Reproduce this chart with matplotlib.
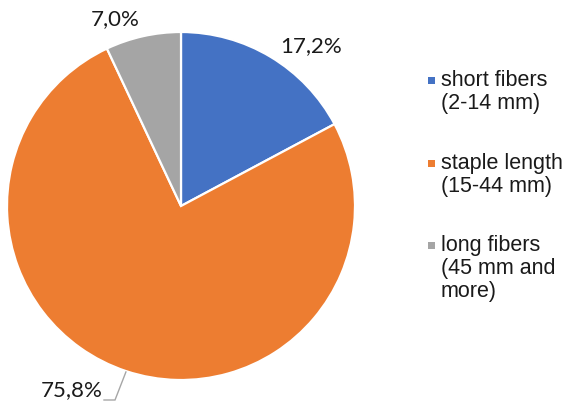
import numpy as np
import matplotlib
matplotlib.use("Agg")
import matplotlib.pyplot as plt
import matplotlib.patches as patches

# fiber length distribution (share of total, %)
categories = ["short fibers\n(2-14 mm)", "staple length\n(15-44 mm)", "long fibers\n(45 mm and\nmore)"]
shares = [17.2, 75.8, 7.0]
labels = ["17,2%", "75,8%", "7,0%"]
colors = ["#4472C4", "#ED7D31", "#A5A5A5"]

W, H = 568, 405
fig = plt.figure(figsize=(W / 100, H / 100), dpi=100, facecolor="white")

# pie axes: centre (181, 206) px, radius 174 px
cx, cy, r = 181, 206, 174
ax = fig.add_axes([(cx - r) / W, (H - cy - r) / H, 2 * r / W, 2 * r / H])

wedges, _ = ax.pie(shares, colors=colors, startangle=90, counterclock=False,
                   radius=1.0, wedgeprops=dict(edgecolor="white", linewidth=1.6))
# pie() widens the limits itself, so pin them afterwards
ax.set_xlim(-1, 1)
ax.set_ylim(-1, 1)
ax.set_aspect("equal")
ax.axis("off")

txt_color = "#1a1a1a"
label_font = ["Lato", "DejaVu Sans"]
fs_label = 16

# data labels, placed in px then converted to data units
def px(x, y):
    return (x - cx) / r, (cy - y) / r

ax.text(*px(311, 46), labels[0], fontsize=fs_label, family=label_font,
        color=txt_color, ha="center", va="center", clip_on=False)
ax.text(*px(115, 19), labels[2], fontsize=fs_label, family=label_font,
        color=txt_color, ha="center", va="center", clip_on=False)
ax.text(*px(103, 390), labels[1], fontsize=fs_label, family=label_font,
        color=txt_color, ha="right", va="center", clip_on=False)

# leader line for the big slice, from its middle angle on the rim
w = wedges[1]
mid = np.deg2rad((w.theta1 + w.theta2) / 2)
tip = (np.cos(mid) * 1.005, np.sin(mid) * 1.005)
knee = px(115, 400)
end = px(104, 400)
ax.plot([tip[0], knee[0], end[0]], [tip[1], knee[1], end[1]],
        color="#A6A6A6", lw=1.0, clip_on=False, solid_joinstyle="miter")

# legend, drawn by hand
leg_font = ["Liberation Sans", "DejaVu Sans"]
first_line_y = [80, 163, 245]
line_h = 23.3
for name, col, y0 in zip(categories, colors, first_line_y):
    sq = 7
    fig.add_artist(patches.Rectangle(((428) / W, (H - y0 - sq / 2) / H), sq / W, sq / H,
                                     transform=fig.transFigure, facecolor=col,
                                     edgecolor="none"))
    for i, line in enumerate(name.split("\n")):
        fig.text(441 / W, (H - (y0 + i * line_h)) / H, line, fontsize=15.5,
                 family=leg_font, color=txt_color, ha="left", va="center")

fig.savefig("out.png", dpi=100, facecolor="white")
